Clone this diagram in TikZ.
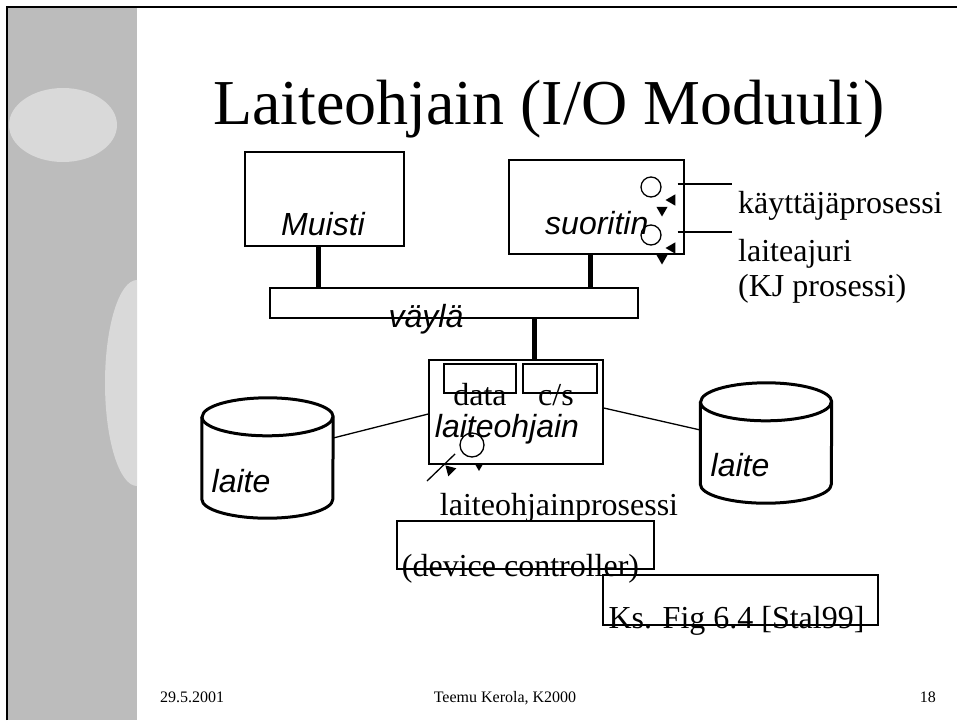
\documentclass[tikz,border=0pt]{standalone}
\usepackage{fontspec}
\setmainfont{Liberation Serif}
\setsansfont{Liberation Sans}
\usetikzlibrary{shapes.geometric}
\definecolor{stripGray}{RGB}{188,188,188}
\definecolor{blobGray}{RGB}{217,217,217}
\tikzstyle{fBox} = [rectangle, draw=black, line width=1.5pt, fill=white, inner sep=0pt]
\tikzstyle{fDiskArea} = [rectangle, minimum width=131pt, minimum height=120pt, inner sep=0pt]
\tikzstyle{fDiskLine} = [draw=black, line width=3pt, line join=round]
\tikzstyle{fBusLink} = [line width=5pt]
\tikzstyle{fWire} = [line width=1.3pt]
\tikzstyle{fItalic} = [font=\sffamily\itshape\fontsize{32}{36}\selectfont, inner sep=0pt]
\tikzstyle{fText} = [font=\fontsize{32}{36}\selectfont, inner sep=0pt]
\tikzstyle{fFoot} = [font=\fontsize{16}{18}\selectfont, inner sep=0pt]
\tikzstyle{fProc} = [circle, draw=black, line width=1.3pt, minimum size=20pt, inner sep=0pt]
\tikzstyle{fTip} = [regular polygon, regular polygon sides=3, fill=black, minimum size=13pt, inner sep=0pt]

\begin{document}
\begin{tikzpicture}[x=1pt, y=-1pt]
    \useasboundingbox (0,0) rectangle (957,720);
    % slide background
    \fill[stripGray] (7,7) rectangle (137,720);
    \fill[blobGray] (63,125) ellipse [x radius=54, y radius=37];
    \begin{scope}
        \clip (7,7) rectangle (137,720);
        \fill[blobGray] (137,383) ellipse [x radius=32, y radius=103];
    \end{scope}
    \draw[line width=2pt] (7,720) -- (7,7) -- (957,7);

    \node (title) [font=\fontsize{64}{68}\selectfont, inner sep=0pt, anchor=base] at (549,124) {Laiteohjain (I/O Moduuli)};

    % boxes
    \node (muisti) [fBox, minimum width=159pt, minimum height=94pt] at (324.5,199) {};
    \node (suoritin) [fBox, minimum width=175pt, minimum height=94pt] at (596.5,207) {};
    \node (vayla) [fBox, minimum width=368pt, minimum height=30pt] at (454,303) {};
    \node (ohjain) [fBox, minimum width=174pt, minimum height=104pt] at (516,412) {};
    \node (dataReg) [fBox, minimum width=72pt, minimum height=29pt] at (480,378.5) {};
    \node (csReg) [fBox, minimum width=74pt, minimum height=29pt] at (560,378.5) {};

    % disks
    \node (diskLeft) [fDiskArea] at (267.5,458) {};
    \node (diskRight) [fDiskArea] at (766,443) {};
    \foreach \disk in {diskLeft, diskRight} {
        \draw[fDiskLine, fill=white] ([yshift=-19pt]\disk.north west) -- ([yshift=19pt]\disk.south west)
            arc[start angle=180, end angle=0, x radius=65.5, y radius=19]
            -- ([yshift=-19pt]\disk.north east)
            arc[start angle=0, end angle=-180, x radius=65.5, y radius=19] -- cycle;
        \draw[fDiskLine] ([yshift=-19pt]\disk.north west)
            arc[start angle=180, end angle=0, x radius=65.5, y radius=19];
    }

    \node (muistiText) [fItalic, anchor=base] at (323,235) {Muisti};
    \node (suoritinText) [fItalic, anchor=base west] at (545,234) {suoritin};
    \node (vaylaText) [fItalic, anchor=base] at (426,327) {väylä};
    \node (dataText) [fText, anchor=base] at (480,405) {data};
    \node (csText) [fText, anchor=base] at (556,405) {c/s};
    \node (ohjainText) [fItalic, anchor=base] at (507,437) {laiteohjain};
    \node (laiteLeft) [fItalic, anchor=base] at (241,492) {laite};
    \node (laiteRight) [fItalic, anchor=base] at (740,476) {laite};

    % bus links
    \draw [fBusLink] ([xshift=-6.5pt]muisti.south) -- ([xshift=-6.5pt]muisti.south |- vayla.north);
    \draw [fBusLink] ([xshift=-6.5pt]suoritin.south) -- ([xshift=-6.5pt]suoritin.south |- vayla.north);
    \draw [fBusLink] ([xshift=18pt]ohjain.north) -- ([xshift=18pt]ohjain.north |- vayla.south);
    \draw [fWire] ([yshift=20pt]diskLeft.east) -- ([yshift=-2pt]ohjain.west);
    \draw [fWire] ([yshift=4pt]ohjain.east) -- ([yshift=13pt]diskRight.west);

    % processes in the processor
    \node (procUser) [fProc] at (651,187) {};
    \node (procDriver) [fProc] at (651,235) {};
    \node (tipUserL) [fTip, shape border rotate=90] at (672,200) {};
    \node (tipUserD) [fTip, shape border rotate=180] at (662,210) {};
    \node (tipDriverL) [fTip, shape border rotate=90] at (672,248) {};
    \node (tipDriverD) [fTip, shape border rotate=180] at (662,258) {};
    \coordinate (userEnd) at (732,184);
    \coordinate (driverEnd) at (732,232);
    \draw [fWire] (procUser.east) ++(16,-3) -- (userEnd);
    \draw [fWire] (procDriver.east) ++(16,-3) -- (driverEnd);
    \node (lblUser) [fText, anchor=base west] at (738,213) {käyttäjäprosessi};
    \node (lblDriver) [fText, anchor=base west] at (738,261) {laiteajuri};
    \node (lblKJ) [fText, anchor=base west] at (738,296) {(KJ prosessi)};

    % process in the controller
    \node (procCtl) [fProc, minimum size=24pt] at (472,445) {};
    \node (tipCtlA) [fTip, shape border rotate=165] at (450,470) {};
    \node (tipCtlB) [fTip, shape border rotate=180, minimum size=10pt] at (479,466) {};
    \coordinate (ctlEnd) at (427,481);
    \draw [fWire] (procCtl.south west) ++(-8,0) -- (ctlEnd);
    \node (lblCtl) [fText, anchor=base] at (559,515) {laiteohjainprosessi};

    % captions
    \node (devCtl) [fBox, fill=none, minimum width=257pt, minimum height=48pt,
        label={[fText, anchor=base, yshift=-7pt, xshift=-5pt]south:(device controller)}] at (525.5,545) {};
    \node (ksFig) [fBox, fill=none, minimum width=275pt, minimum height=50pt,
        label={[fText, anchor=base, yshift=-3pt, xshift=-4pt]south:Ks. Fig 6.4 [Stal99]}] at (740.5,600) {};

    % footer
    \node (date) [fFoot, anchor=base west] at (160,702) {29.5.2001};
    \node (author) [fFoot, anchor=base] at (505,702) {Teemu Kerola, K2000};
    \node (page) [fFoot, anchor=base east] at (936,702) {18};
\end{tikzpicture}
\end{document}
